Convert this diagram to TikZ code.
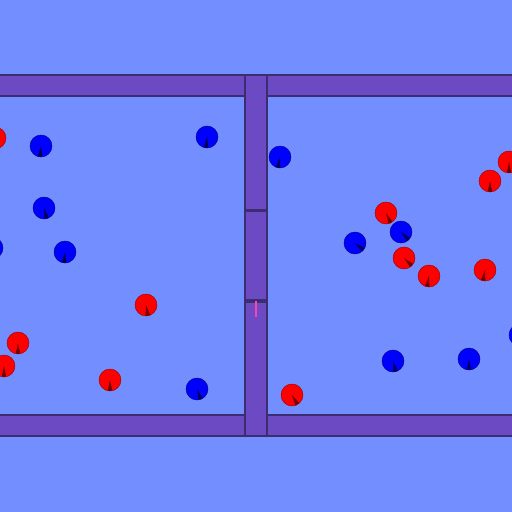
\documentclass[tikz,border=0pt]{standalone}
\usepackage{tikz}
\usetikzlibrary{calc}

\definecolor{tankbg}{RGB}{115,143,255}
\definecolor{wallfill}{RGB}{108,74,196}
\definecolor{wallline}{RGB}{60,44,112}
\definecolor{gatemark}{RGB}{255,64,176}

\begin{document}
\begin{tikzpicture}[x=0.5mm, y=-0.5mm,
  wall/.style={fill=wallfill, draw=wallline, line width=2.2pt},
  redball/.style={circle, inner sep=0pt, minimum size=11mm,
                  fill=red, draw=red!60!black, line width=0.6pt,
                  path picture={\fill[red!45!black]
                    (path picture bounding box.center) -- +(#1-12:12) -- +(#1+12:12) -- cycle;}},
  blueball/.style={circle, inner sep=0pt, minimum size=11mm,
                   fill=blue, draw=blue!50!black, line width=0.6pt,
                   path picture={\fill[blue!35!black]
                     (path picture bounding box.center) -- +(#1-12:12) -- +(#1+12:12) -- cycle;}},
  gate/.style={draw=gatemark, line width=1.1mm},
]

%% ── Canvas ──────────────────────────────────────────────────────────
\useasboundingbox (0,0) rectangle (512,512);
\clip (0,0) rectangle (512,512);
\fill[tankbg] (0,0) rectangle (512,512);

%% ── Walls ───────────────────────────────────────────────────────────
\draw[wall] (-10,75)  rectangle (245,96);
\draw[wall] (267,75)  rectangle (522,96);
\draw[wall] (-10,415) rectangle (245,436);
\draw[wall] (267,415) rectangle (522,436);

%% ── Divider (three segments) ────────────────────────────────────────
\draw[wall] (245,75)  rectangle (267,210);
\draw[wall] (245,211) rectangle (267,300);
\draw[wall] (245,302) rectangle (267,436);

\coordinate (gtop) at (256,301);
\coordinate (gbot) at (256,317);
\draw[gate] (gtop) -- (gbot);

%% ── Left chamber ────────────────────────────────────────────────────
\node[redball=90]   (lr1) at (-5,138)  {};
\node[blueball=95]  (lb1) at (41,146)  {};
\node[blueball=95]  (lb2) at (207,137) {};
\node[blueball=75]  (lb3) at (44,208)  {};
\node[blueball=90]  (lb4) at (-8,248)  {};
\node[blueball=95]  (lb5) at (65,252)  {};
\node[redball=80]   (lr2) at (146,305) {};
\node[redball=90]   (lr3) at (18,343)  {};
\node[redball=90]   (lr4) at (4,366)   {};
\node[redball=90]   (lr5) at (110,380) {};
\node[blueball=70]  (lb6) at (197,389) {};

%% ── Right chamber ───────────────────────────────────────────────────
\node[blueball=100] (rb1) at (280,157) {};
\node[redball=90]   (rr1) at (509,162) {};
\node[redball=90]   (rr2) at (490,181) {};
\node[redball=65]   (rr3) at (386,213) {};
\node[blueball=45]  (rb2) at (401,232) {};
\node[blueball=40]  (rb3) at (355,243) {};
\node[redball=45]   (rr4) at (404,258) {};
\node[redball=100]  (rr5) at (429,276) {};
\node[redball=100]  (rr6) at (485,270) {};
\node[blueball=90]  (rb4) at (520,335) {};
\node[blueball=75]  (rb5) at (393,361) {};
\node[blueball=90]  (rb6) at (469,359) {};
\node[redball=60]   (rr7) at (292,395) {};

\end{tikzpicture}
\end{document}
